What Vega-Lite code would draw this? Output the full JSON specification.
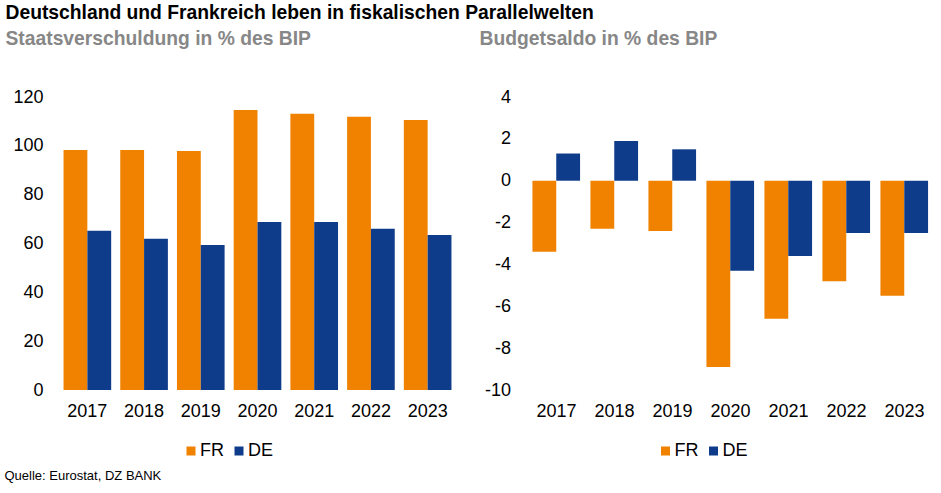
{
  "$schema": "https://vega.github.io/schema/vega-lite/v6.json",
  "background": "white",
  "padding": {"left": 4, "top": 4, "right": 6, "bottom": 5},
  "title": {
    "text": "Deutschland und Frankreich leben in fiskalischen Parallelwelten",
    "anchor": "start",
    "frame": "bounds",
    "fontSize": 19.3,
    "fontWeight": "bold",
    "color": "#000000",
    "offset": 6,
    "dx": 1
  },
  "datasets": {
    "fiscal": [
      {"year": "2017", "country": "FR", "debt": 98.3, "balance": -3.4},
      {"year": "2017", "country": "DE", "debt": 65.2, "balance": 1.3},
      {"year": "2018", "country": "FR", "debt": 98.3, "balance": -2.3},
      {"year": "2018", "country": "DE", "debt": 61.9, "balance": 1.9},
      {"year": "2019", "country": "FR", "debt": 97.9, "balance": -2.4},
      {"year": "2019", "country": "DE", "debt": 59.4, "balance": 1.5},
      {"year": "2020", "country": "FR", "debt": 114.7, "balance": -8.9},
      {"year": "2020", "country": "DE", "debt": 68.8, "balance": -4.3},
      {"year": "2021", "country": "FR", "debt": 113.1, "balance": -6.6},
      {"year": "2021", "country": "DE", "debt": 68.8, "balance": -3.6},
      {"year": "2022", "country": "FR", "debt": 111.9, "balance": -4.8},
      {"year": "2022", "country": "DE", "debt": 66.0, "balance": -2.5},
      {"year": "2023", "country": "FR", "debt": 110.6, "balance": -5.5},
      {"year": "2023", "country": "DE", "debt": 63.5, "balance": -2.5}
    ]
  },
  "vconcat": [
    {
      "title": {
        "text": "Quelle: Eurostat, DZ BANK",
        "orient": "bottom",
        "anchor": "start",
        "frame": "bounds",
        "fontSize": 13,
        "fontWeight": "normal",
        "color": "#000000",
        "offset": 10,
        "dx": -1
      },
      "resolve": {"legend": {"color": "independent"}},
      "spacing": 23.5,
      "hconcat": [
        {
          "width": 397,
          "height": 293,
          "data": {"name": "fiscal"},
          "title": {
            "text": "Staatsverschuldung in % des BIP",
            "anchor": "start",
            "frame": "bounds",
            "fontSize": 19.3,
            "fontWeight": "bold",
            "color": "#878787",
            "offset": 39
          },
          "mark": {"type": "bar"},
          "encoding": {
            "x": {
              "field": "year",
              "type": "nominal",
              "scale": {"paddingInner": 0.16, "paddingOuter": 0.08},
              "axis": {"title": null, "labelAngle": 0, "domain": false, "ticks": false, "labelPadding": 12, "labelFontSize": 18, "labelColor": "#000000"}
            },
            "xOffset": {"field": "country", "type": "nominal", "sort": ["FR", "DE"]},
            "y": {
              "field": "debt",
              "type": "quantitative",
              "scale": {"domain": [0, 120], "nice": false},
              "axis": {"title": null, "values": [0, 20, 40, 60, 80, 100, 120], "domain": false, "ticks": false, "grid": false, "labelPadding": 16, "minExtent": 53.5, "labelFontSize": 18, "labelColor": "#000000"}
            },
            "color": {
              "field": "country",
              "type": "nominal",
              "scale": {"domain": ["FR", "DE"], "range": ["#F08200", "#0F3C8A"]},
              "legend": {"orient": "none", "legendX": 123, "legendY": 345, "direction": "horizontal", "title": null, "symbolType": "square", "symbolSize": 81, "symbolStrokeWidth": 0, "labelFontSize": 18, "labelColor": "#000000", "labelOffset": 0, "columnPadding": 6, "padding": 0}
            }
          }
        },
        {
          "width": 406,
          "height": 293,
          "data": {"name": "fiscal"},
          "title": {
            "text": "Budgetsaldo in % des BIP",
            "anchor": "start",
            "frame": "bounds",
            "fontSize": 19.3,
            "fontWeight": "bold",
            "color": "#878787",
            "offset": 39
          },
          "mark": {"type": "bar"},
          "encoding": {
            "x": {
              "field": "year",
              "type": "nominal",
              "scale": {"paddingInner": 0.17, "paddingOuter": 0.085},
              "axis": {"title": null, "labelAngle": 0, "domain": false, "ticks": false, "labelPadding": 12, "labelFontSize": 18, "labelColor": "#000000", "orient": "bottom"}
            },
            "xOffset": {"field": "country", "type": "nominal", "sort": ["FR", "DE"]},
            "y": {
              "field": "balance",
              "type": "quantitative",
              "scale": {"domain": [-10, 4], "nice": false},
              "axis": {"title": null, "values": [-10, -8, -6, -4, -2, 0, 2, 4], "labelExpr": "datum.value + ''", "domain": false, "ticks": false, "grid": false, "labelPadding": 17, "minExtent": 48, "labelFontSize": 18, "labelColor": "#000000"}
            },
            "color": {
              "field": "country",
              "type": "nominal",
              "scale": {"domain": ["FR", "DE"], "range": ["#F08200", "#0F3C8A"]},
              "legend": {"orient": "none", "legendX": 129, "legendY": 345, "direction": "horizontal", "title": null, "symbolType": "square", "symbolSize": 81, "symbolStrokeWidth": 0, "labelFontSize": 18, "labelColor": "#000000", "labelOffset": 0, "columnPadding": 6, "padding": 0}
            }
          }
        }
      ]
    }
  ],
  "config": {
    "font": "Liberation Sans",
    "view": {"stroke": null},
    "axis": {"labelFont": "Liberation Sans"},
    "legend": {"labelFont": "Liberation Sans"},
    "title": {"font": "Liberation Sans"}
  }
}
